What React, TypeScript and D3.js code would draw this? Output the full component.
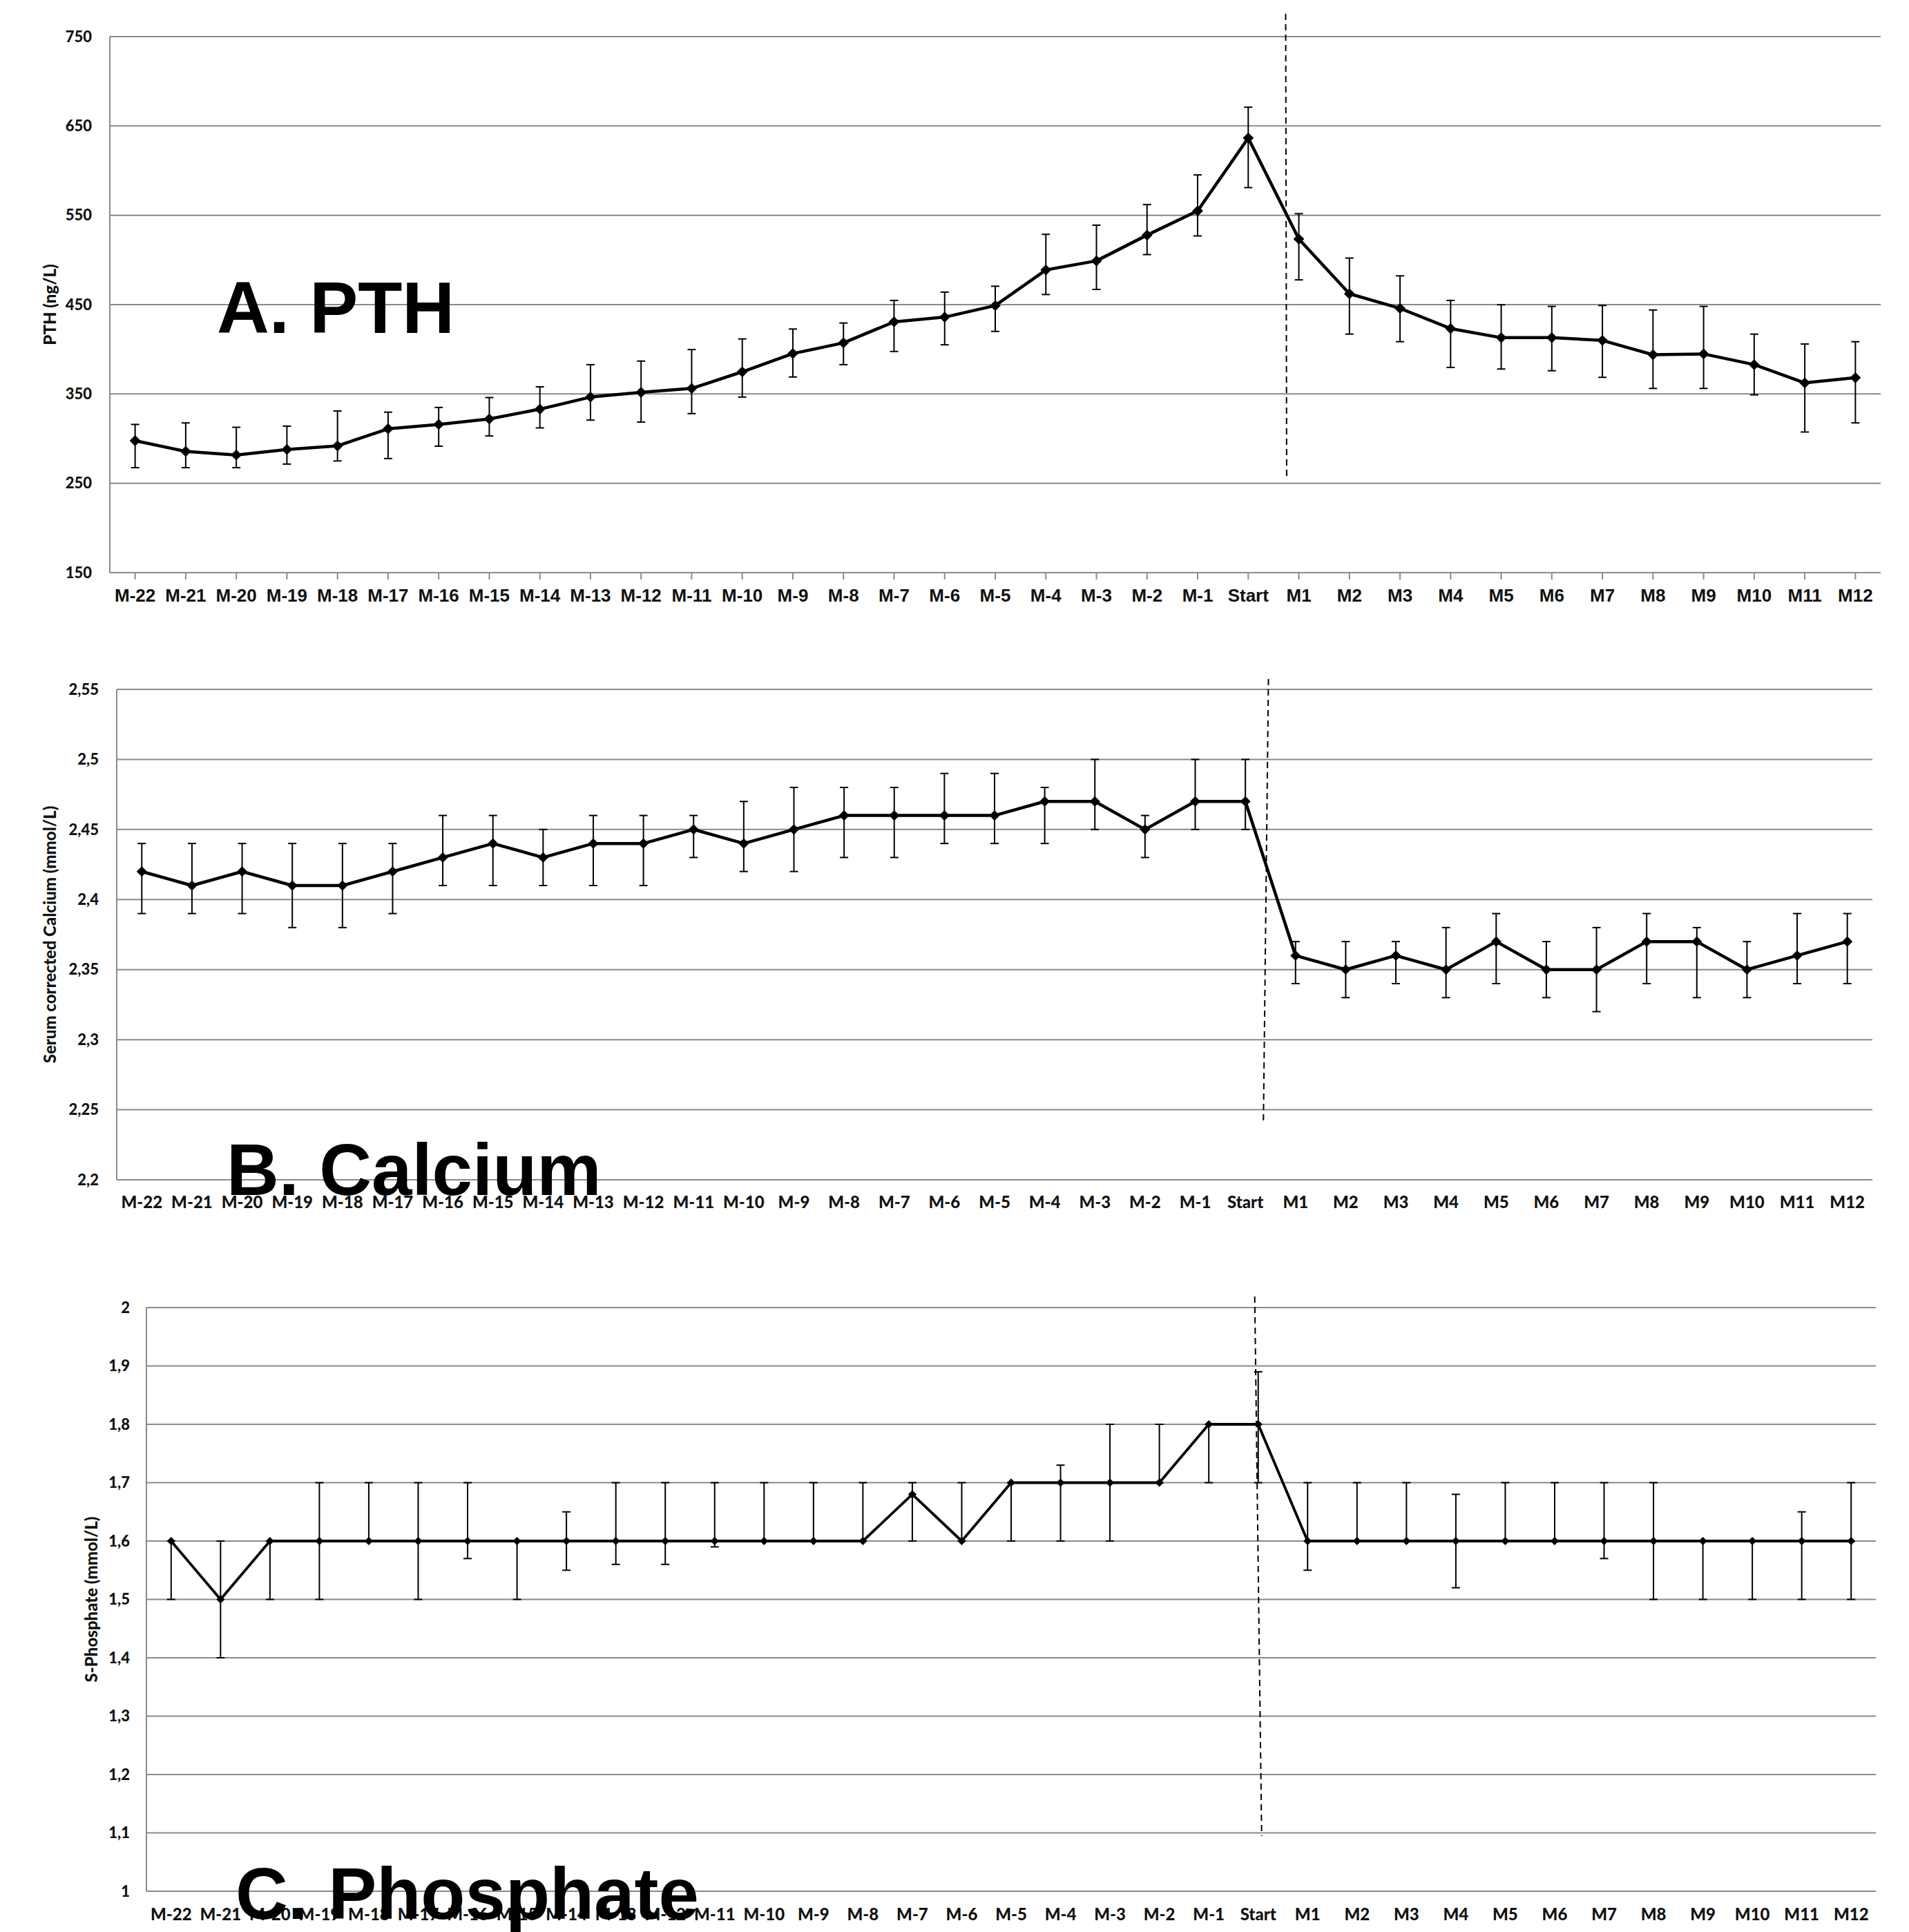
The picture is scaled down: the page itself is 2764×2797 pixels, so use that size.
import React from 'react';
import * as d3 from 'd3';

// categories
const months = [
  'M-22', 'M-21', 'M-20', 'M-19', 'M-18', 'M-17', 'M-16', 'M-15', 'M-14', 'M-13', 'M-12',
  'M-11', 'M-10', 'M-9', 'M-8', 'M-7', 'M-6', 'M-5', 'M-4', 'M-3', 'M-2', 'M-1', 'Start',
  'M1', 'M2', 'M3', 'M4', 'M5', 'M6', 'M7', 'M8', 'M9', 'M10', 'M11', 'M12',
];

// A. PTH (ng/L)
const pthMean = [297.7, 285.7, 281.7, 287.9, 291.9, 311, 315.9, 322, 333, 346.5, 351.8, 356.2, 374.8, 395.2, 407.2, 430.7, 436, 448.9, 488.8, 499, 527.8, 554.9, 636.5, 523.4, 462.2, 445.8, 423.2, 413, 413, 409.9, 393.9, 394.8, 382.8, 362.4, 368.2];
const pthHigh = [315.9, 317.6, 312.7, 314, 330.9, 329.6, 334.9, 346, 358, 382.8, 386.8, 399.7, 411.6, 422.7, 429.4, 454.7, 464, 470.6, 528.7, 538.9, 562, 595.2, 671, 551.8, 502.1, 482.2, 454.7, 449.8, 448, 449, 444, 448, 417, 405.9, 408.5];
const pthLow = [267.5, 267.5, 267.5, 271.5, 275, 277.7, 291.5, 303, 312, 320.7, 318.5, 328, 346.5, 369, 382.8, 397.5, 405, 420, 461.3, 467, 506, 526.9, 581, 477.7, 417, 408.5, 379.7, 377.9, 376, 368.6, 356.2, 356.2, 349, 307.4, 317.6];
const pthTicks = [150, 250, 350, 450, 550, 650, 750];

// B. serum corrected calcium (mmol/L)
const caMean = [2.42, 2.41, 2.42, 2.41, 2.41, 2.42, 2.43, 2.44, 2.43, 2.44, 2.44, 2.45, 2.44, 2.45, 2.46, 2.46, 2.46, 2.46, 2.47, 2.47, 2.45, 2.47, 2.47, 2.36, 2.35, 2.36, 2.35, 2.37, 2.35, 2.35, 2.37, 2.37, 2.35, 2.36, 2.37];
const caHigh = [2.44, 2.44, 2.44, 2.44, 2.44, 2.44, 2.46, 2.46, 2.45, 2.46, 2.46, 2.46, 2.47, 2.48, 2.48, 2.48, 2.49, 2.49, 2.48, 2.5, 2.46, 2.5, 2.5, 2.37, 2.37, 2.37, 2.38, 2.39, 2.37, 2.38, 2.39, 2.38, 2.37, 2.39, 2.39];
const caLow = [2.39, 2.39, 2.39, 2.38, 2.38, 2.39, 2.41, 2.41, 2.41, 2.41, 2.41, 2.43, 2.42, 2.42, 2.43, 2.43, 2.44, 2.44, 2.44, 2.45, 2.43, 2.45, 2.45, 2.34, 2.33, 2.34, 2.33, 2.34, 2.33, 2.32, 2.34, 2.33, 2.33, 2.34, 2.34];
const caTicks = [2.2, 2.25, 2.3, 2.35, 2.4, 2.45, 2.5, 2.55];

// C. S-phosphate (mmol/L)
const phMean = [1.6, 1.5, 1.6, 1.6, 1.6, 1.6, 1.6, 1.6, 1.6, 1.6, 1.6, 1.6, 1.6, 1.6, 1.6, 1.68, 1.6, 1.7, 1.7, 1.7, 1.7, 1.8, 1.8, 1.6, 1.6, 1.6, 1.6, 1.6, 1.6, 1.6, 1.6, 1.6, 1.6, 1.6, 1.6];
const phHigh = [1.6, 1.6, 1.6, 1.7, 1.7, 1.7, 1.7, 1.6, 1.65, 1.7, 1.7, 1.7, 1.7, 1.7, 1.7, 1.7, 1.7, 1.7, 1.73, 1.8, 1.8, 1.8, 1.89, 1.7, 1.7, 1.7, 1.68, 1.7, 1.7, 1.7, 1.7, 1.6, 1.6, 1.65, 1.7];
const phLow = [1.5, 1.4, 1.5, 1.5, 1.6, 1.5, 1.57, 1.5, 1.55, 1.56, 1.56, 1.59, 1.6, 1.6, 1.6, 1.6, 1.6, 1.6, 1.6, 1.6, 1.7, 1.7, 1.7, 1.55, 1.6, 1.6, 1.52, 1.6, 1.6, 1.57, 1.5, 1.5, 1.5, 1.5, 1.5];
const phTicks = [1, 1.1, 1.2, 1.3, 1.4, 1.5, 1.6, 1.7, 1.8, 1.9, 2];

const GRID = '#8a8a8a';
const commaFmt = (v: number) => String(v).replace('.', ',');

type PanelProps = {
  mean: number[];
  high: number[];
  low: number[];
  ticks: number[];
  fmt: (v: number) => string;
  left: number;
  right: number;
  top: number;
  bottom: number;
  yTitle: string;
  titleX: number;
  label: string;
  labelX: number;
  labelY: number;
  catY: number;
  catFont: string;
  catSize: number;
  tickFont: string;
  tickGap: number;
  xTicks: boolean;
  dash: { top: number; bottom: number; fTop: number; fBottom: number };
  markerSize: number;
  lineWidth: number;
};

function Panel(p: PanelProps) {
  const x = d3.scaleBand<string>().domain(months).range([p.left, p.right]).padding(0);
  const y = d3.scaleLinear()
    .domain([p.ticks[0], p.ticks[p.ticks.length - 1]])
    .range([p.bottom, p.top]);
  const cx = (m: string) => (x(m) as number) + x.bandwidth() / 2;
  const step = x.step();

  const line = d3.line<number>()
    .x((d, i) => cx(months[i]))
    .y((d) => y(d));

  const marker = d3.symbol(d3.symbolSquare, p.markerSize)() as string;
  const cap = 6;
  const sx = cx('Start');

  return (
    <g>
      {p.ticks.map((t) => (
        <g key={t}>
          <line x1={p.left} x2={p.right} y1={y(t)} y2={y(t)} stroke={GRID} strokeWidth={2} />
          <text
            x={p.left - p.tickGap}
            y={y(t)}
            dy="0.35em"
            textAnchor="end"
            fontFamily={p.tickFont}
            fontWeight="900"
            fontSize={22}
            fill="#111"
          >
            {p.fmt(t)}
          </text>
        </g>
      ))}
      <line x1={p.left} x2={p.left} y1={p.top} y2={p.bottom} stroke={GRID} strokeWidth={2} />
      {p.xTicks && months.map((m) => (
        <line key={m} x1={cx(m)} x2={cx(m)} y1={p.bottom} y2={p.bottom + 10} stroke={GRID} strokeWidth={2} />
      ))}
      {months.map((m) => (
        <text
          key={m}
          x={cx(m)}
          y={p.catY}
          textAnchor="middle"
          fontFamily={p.catFont}
          fontWeight="900"
          fontSize={p.catSize}
          fill="#111"
        >
          {m}
        </text>
      ))}
      <text
        transform={`translate(${p.titleX},${(p.top + p.bottom) / 2}) rotate(-90)`}
        textAnchor="middle"
        dy="0.35em"
        fontFamily="Lato, 'Open Sans', sans-serif"
        fontWeight="900"
        fontSize={24}
        fill="#111"
      >
        {p.yTitle}
      </text>
      <line
        x1={sx + p.dash.fTop * step}
        x2={sx + p.dash.fBottom * step}
        y1={p.dash.top}
        y2={p.dash.bottom}
        stroke="#000"
        strokeWidth={2}
        strokeDasharray="9,6"
      />
      {months.map((m, i) => (
        <g key={m} stroke="#000" strokeWidth={2}>
          <line x1={cx(m)} x2={cx(m)} y1={y(p.high[i])} y2={y(p.low[i])} />
          <line x1={cx(m) - cap} x2={cx(m) + cap} y1={y(p.high[i])} y2={y(p.high[i])} />
          <line x1={cx(m) - cap} x2={cx(m) + cap} y1={y(p.low[i])} y2={y(p.low[i])} />
        </g>
      ))}
      <path d={line(p.mean) as string} fill="none" stroke="#000" strokeWidth={p.lineWidth} strokeLinejoin="round" />
      {months.map((m, i) => (
        <path key={m} d={marker} transform={`translate(${cx(m)},${y(p.mean[i])}) rotate(45)`} fill="#000" />
      ))}
      <text
        x={p.labelX}
        y={p.labelY}
        fontFamily="'Liberation Sans', Arial, sans-serif"
        fontWeight="bold"
        fontSize={105}
        fill="#000"
      >
        {p.label}
      </text>
    </g>
  );
}

export default function App() {
  const arial = "'Liberation Sans', Arial, sans-serif";
  const calibri = "Lato, 'Open Sans', sans-serif";
  return (
    <svg
      width={2764}
      height={2797}
      style={{ position: 'absolute', left: 0, top: 0, background: '#fff' }}
    >
      <rect x={0} y={0} width={2764} height={2797} fill="#fff" />
      <Panel
        mean={pthMean}
        high={pthHigh}
        low={pthLow}
        ticks={pthTicks}
        fmt={(v) => String(v)}
        left={159}
        right={2723}
        top={53}
        bottom={829}
        yTitle="PTH (ng/L)"
        titleX={73}
        label="A. PTH"
        labelX={314}
        labelY={482}
        catY={871}
        catFont={arial}
        catSize={26}
        tickFont={calibri}
        tickGap={26}
        xTicks={true}
        dash={{ top: 20, bottom: 695, fTop: 0.74, fBottom: 0.76 }}
        markerSize={125}
        lineWidth={4.5}
      />
      <Panel
        mean={caMean}
        high={caHigh}
        low={caLow}
        ticks={caTicks}
        fmt={commaFmt}
        left={169}
        right={2711}
        top={998}
        bottom={1708}
        yTitle="Serum corrected Calcium (mmol/L)"
        titleX={73}
        label="B. Calcium"
        labelX={328}
        labelY={1730}
        catY={1749}
        catFont={calibri}
        catSize={24}
        tickFont={calibri}
        tickGap={26}
        xTicks={false}
        dash={{ top: 983, bottom: 1622, fTop: 0.46, fBottom: 0.36 }}
        markerSize={115}
        lineWidth={4.5}
      />
      <Panel
        mean={phMean}
        high={phHigh}
        low={phLow}
        ticks={phTicks}
        fmt={commaFmt}
        left={212}
        right={2716}
        top={1893}
        bottom={2738}
        yTitle="S-Phosphate (mmol/L)"
        titleX={133}
        label="C. Phosphate"
        labelX={341}
        labelY={2778}
        catY={2780}
        catFont={calibri}
        catSize={24}
        tickFont={calibri}
        tickGap={24}
        xTicks={false}
        dash={{ top: 1877, bottom: 2658, fTop: -0.07, fBottom: 0.07 }}
        markerSize={75}
        lineWidth={3.8}
      />
    </svg>
  );
}
